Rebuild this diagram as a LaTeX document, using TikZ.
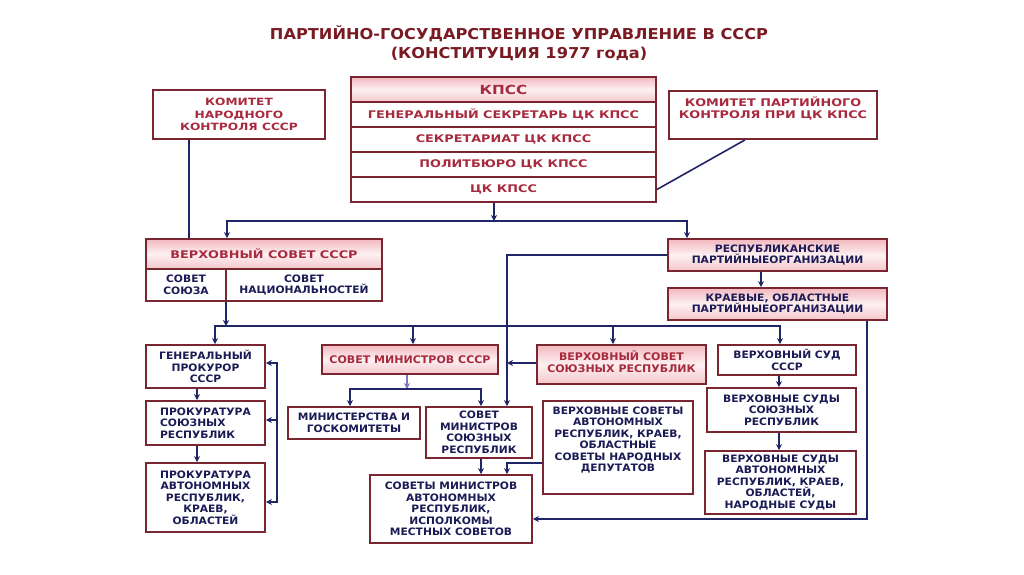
\documentclass[tikz,border=0pt]{standalone}
\usepackage{fontspec}
\setmainfont{DejaVu Sans}
\newfontfamily\navyfont{DejaVu Sans}[FakeStretch=1.05]
\newfontfamily\redfont{DejaVu Sans}[FakeStretch=1.22]
\newfontfamily\titlefont{DejaVu Sans}[FakeStretch=1.08]
\usetikzlibrary{arrows.meta,calc}
\definecolor{maroon}{HTML}{7A2631}
\definecolor{crim}{HTML}{A82A3E}
\definecolor{navy}{HTML}{1B1B55}
\definecolor{lnavy}{HTML}{1F2566}
\definecolor{pinkA}{HTML}{F2B8BF}
\definecolor{pinkB}{HTML}{FDF0F1}
\definecolor{ttl}{HTML}{7A1A22}
\definecolor{lav}{HTML}{7A7AC0}
\tikzset{
  bx/.style={draw=maroon, line width=1.8pt, fill=white, inner sep=1pt, align=center,
    text=navy, font=\navyfont\bfseries\fontsize{10.2}{11.5}\selectfont},
  pk/.style={bx, top color=pinkA, bottom color=pinkA!80, middle color=pinkB},
  rt/.style={text=crim, font=\redfont\bfseries\fontsize{10.5}{12.5}\selectfont},
  rs/.style={text=crim, font=\navyfont\bfseries\fontsize{10.5}{11.5}\selectfont},
  nt/.style={text=navy, align=center, font=\navyfont\bfseries\fontsize{10.2}{11.5}\selectfont},
  ln/.style={draw=lnavy, line width=1.6pt},
  ar/.style={ln, -{Stealth[length=6pt,width=6pt]}},
  arb/.style={ln, {Stealth[length=6pt,width=6pt]}-{Stealth[length=6pt,width=6pt]}},
}
\newcommand\mkbox[7]{\node[#2, minimum width=#5pt-#3pt, minimum height=#6pt-#4pt] (#1) at ({(#3+#5)/2},{(#4+#6)/2}) {#7};}
\begin{document}
\begin{tikzpicture}[x=1pt,y=-1pt]
\fill[white] (0,0) rectangle (1024,574);
\useasboundingbox (0,0) rectangle (1024,574);

\node[font=\titlefont\bfseries\fontsize{15}{19}\selectfont, text=ttl, align=center] (title) at (519,43)
  {ПАРТИЙНО-ГОСУДАРСТВЕННОЕ УПРАВЛЕНИЕ В СССР\\(КОНСТИТУЦИЯ 1977 года)};

% top
\mkbox{knk}{bx,rt,font=\redfont\bfseries\fontsize{10}{12.5}\selectfont}{153}{90}{325}{139}{КОМИТЕТ\\НАРОДНОГО\\КОНТРОЛЯ СССР}
\mkbox{kpk}{bx}{669}{91}{877}{139}{}
\node[rt, align=center] (kpkT) at (773,108.5) {КОМИТЕТ ПАРТИЙНОГО\\КОНТРОЛЯ ПРИ ЦК КПСС};
\mkbox{kpss}{pk,rt,font=\redfont\bfseries\fontsize{12.5}{14}\selectfont}{351}{77}{656}{102}{КПСС}
\mkbox{r1}{bx,rt}{351}{102}{656}{127}{ГЕНЕРАЛЬНЫЙ СЕКРЕТАРЬ ЦК КПСС}
\mkbox{r2}{bx,rt}{351}{127}{656}{152}{СЕКРЕТАРИАТ ЦК КПСС}
\mkbox{r3}{bx,rt}{351}{152}{656}{177}{ПОЛИТБЮРО ЦК КПСС}
\mkbox{r4}{bx,rt}{351}{177}{656}{202}{ЦК КПСС}

% second level
\mkbox{vs}{pk,rt}{146}{239}{382}{269}{ВЕРХОВНЫЙ СОВЕТ СССР}
\mkbox{vsL}{bx}{146}{269}{226}{301}{СОВЕТ\\СОЮЗА}
\mkbox{vsR}{bx}{226}{269}{382}{301}{СОВЕТ\\НАЦИОНАЛЬНОСТЕЙ}
\mkbox{resp}{pk}{668}{239}{887}{271}{РЕСПУБЛИКАНСКИЕ\\ПАРТИЙНЫЕОРГАНИЗАЦИИ}
\mkbox{kraev}{pk}{668}{288}{887}{320}{КРАЕВЫЕ, ОБЛАСТНЫЕ\\ПАРТИЙНЫЕОРГАНИЗАЦИИ}

% prosecutors
\mkbox{genp}{bx}{146}{345}{265}{388}{ГЕНЕРАЛЬНЫЙ\\ПРОКУРОР\\СССР}
\mkbox{pus}{bx,align=left}{146}{401}{265}{445}{ПРОКУРАТУРА\\СОЮЗНЫХ\\РЕСПУБЛИК}
\mkbox{pau}{bx}{146}{463}{265}{532}{ПРОКУРАТУРА\\АВТОНОМНЫХ\\РЕСПУБЛИК,\\КРАЕВ,\\ОБЛАСТЕЙ}

% ministers
\mkbox{smsssr}{pk,rs}{322}{345}{498}{374}{СОВЕТ МИНИСТРОВ СССР}
\mkbox{min}{bx}{288}{407}{420}{439}{МИНИСТЕРСТВА И\\ГОСКОМИТЕТЫ}
\mkbox{smr}{bx}{426}{407}{532}{458}{СОВЕТ\\МИНИСТРОВ\\СОЮЗНЫХ\\РЕСПУБЛИК}
\mkbox{sma}{bx}{370}{475}{532}{543}{СОВЕТЫ МИНИСТРОВ\\АВТОНОМНЫХ\\РЕСПУБЛИК,\\ИСПОЛКОМЫ\\МЕСТНЫХ СОВЕТОВ}

% soviets
\mkbox{vssr}{pk,rs}{537}{345}{706}{384}{}
\node[rs, align=center] (vssrT) at (621.5,361.5) {ВЕРХОВНЫЙ СОВЕТ\\СОЮЗНЫХ РЕСПУБЛИК};
\mkbox{vsa}{bx}{543}{401}{693}{494}{}
\node[nt] (vsaT) at (618,440) {ВЕРХОВНЫЕ СОВЕТЫ\\АВТОНОМНЫХ\\РЕСПУБЛИК, КРАЕВ,\\ОБЛАСТНЫЕ\\СОВЕТЫ НАРОДНЫХ\\ДЕПУТАТОВ};

% courts
\mkbox{vsud}{bx}{718}{345}{856}{375}{ВЕРХОВНЫЙ СУД\\СССР}
\mkbox{vss}{bx}{707}{388}{856}{432}{ВЕРХОВНЫЕ СУДЫ\\СОЮЗНЫХ\\РЕСПУБЛИК}
\mkbox{vsa2}{bx}{705}{451}{856}{514}{ВЕРХОВНЫЕ СУДЫ\\АВТОНОМНЫХ\\РЕСПУБЛИК, КРАЕВ,\\ОБЛАСТЕЙ,\\НАРОДНЫЕ СУДЫ}

% coordinates
\coordinate (xK) at (189,0);
\coordinate (jT) at (494,221);
\coordinate (jL) at (227,221);
\coordinate (jR) at (687,221);
\coordinate (xP) at (745,0);
\coordinate (xR) at (761,0);
\coordinate (xS) at (507,0);
\coordinate (xE) at (867,0);
\coordinate (yE) at (0,519);
\coordinate (xV) at (226,0);
\coordinate (hL) at (215,326);
\coordinate (hR) at (780,326);
\coordinate (x413) at (413,0);
\coordinate (x613) at (613,0);
\coordinate (m1) at (407,389);
\coordinate (mL) at (350,389);
\coordinate (mR) at (481,389);
\coordinate (yA) at (0,463);
\coordinate (yV) at (0,363);
\coordinate (xG) at (197,0);
\coordinate (xB) at (277,0);
\coordinate (yB1) at (0,363);
\coordinate (yB2) at (0,420);
\coordinate (yB3) at (0,502);
\coordinate (xC) at (779,0);

% connectors
\draw[ln] (knk.south -| xK) -- (vs.north -| xK);
\draw[ar] (r4.south -| jT) -- (jT);
\draw[arb] (vs.north -| jL) -- (jL) -- (jR) -- (resp.north -| jR);
\draw[ln] (r4.east) -- (kpk.south -| xP);
\draw[ar] (resp.south -| xR) -- (kraev.north -| xR);
\draw[ar] (resp.west) -- (resp.west -| xS) -- (smr.north -| xS);
\draw[ar] (kraev.south -| xE) -- (xE |- yE) -- (sma.east |- yE);
\draw[ar] (vsL.south -| xV) -- (xV |- hL);
\draw[arb] (genp.north -| hL) -- (hL) -- (hR) -- (vsud.north -| hR);
\draw[ar] (x413 |- hL) -- (smsssr.north -| x413);
\draw[ar] (x613 |- hL) -- (vssr.north -| x613);
\draw[ar, draw=lav] (smsssr.south -| m1) -- (m1);
\draw[arb] (min.north -| mL) -- (mL) -- (mR) -- (smr.north -| mR);
\draw[ar] (vssr.west |- yV) -- (xS |- yV);
\draw[ar] (vsa.west |- yA) -- (xS |- yA) -- (sma.north -| xS);
\draw[ar] (smr.south -| mR) -- (sma.north -| mR);
\draw[ar] (genp.south -| xG) -- (pus.north -| xG);
\draw[ar] (pus.south -| xG) -- (pau.north -| xG);
\draw[arb] (genp.east |- yB1) -- (xB |- yB1) -- (xB |- yB3) -- (pau.east |- yB3);
\draw[ar] (xB |- yB2) -- (pus.east |- yB2);
\draw[ar] (vsud.south -| xC) -- (vss.north -| xC);
\draw[ar] (vss.south -| xC) -- (vsa2.north -| xC);
\end{tikzpicture}
\end{document}
